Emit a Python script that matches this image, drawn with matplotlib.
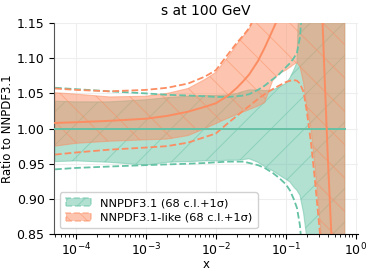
import matplotlib
matplotlib.use("Agg")
import matplotlib.pyplot as plt
from matplotlib.patches import Patch

# datos (cociente respecto a NNPDF3.1)
x = [5e-5, 1e-4, 3e-4, 1e-3, 2e-3, 4e-3, 7e-3, 1e-2, 0.015, 0.02,
     0.025, 0.03, 0.04, 0.05, 0.065, 0.08, 0.1, 0.115, 0.13, 0.145,
     0.16, 0.18, 0.2, 0.23, 0.26, 0.29, 0.32, 0.36, 0.4, 0.5, 0.7]

# NNPDF3.1
g_central = [1.0] * len(x)
g_up68 = [1.039, 1.038, 1.038, 1.041, 1.044, 1.046, 1.047, 1.047, 1.048, 1.050,
          1.053, 1.055, 1.055, 1.054, 1.055, 1.059, 1.064, 1.072, 1.083, 1.094,
          1.25, 1.6, 2.0, 2.0, 2.0, 2.0, 2.0, 2.0, 2.0, 2.0, 2.0]
g_lo68 = [0.953, 0.954, 0.952, 0.948, 0.952, 0.953, 0.954, 0.954, 0.955, 0.955,
          0.956, 0.957, 0.952, 0.946, 0.940, 0.934, 0.928, 0.924, 0.917, 0.912,
          0.905, 0.88, 0.845, 0.7, 0.4, 0.0, 0.0, 0.0, 0.0, 0.0, 0.0]
g_up1s = [1.058, 1.056, 1.053, 1.050, 1.048, 1.047, 1.046, 1.045, 1.045, 1.046,
          1.047, 1.049, 1.055, 1.061, 1.070, 1.077, 1.087, 1.093, 1.100, 1.108,
          1.13, 1.2, 1.4, 2.0, 2.0, 2.0, 2.0, 2.0, 2.0, 2.0, 2.0]
g_lo1s = [0.942, 0.944, 0.946, 0.948, 0.949, 0.950, 0.951, 0.952, 0.953, 0.953,
          0.953, 0.951, 0.948, 0.944, 0.937, 0.930, 0.921, 0.912, 0.900, 0.887,
          0.862, 0.80, 0.7, 0.4, 0.0, 0.0, 0.0, 0.0, 0.0, 0.0, 0.0]

# NNPDF3.1-like
o_central = [1.008, 1.009, 1.011, 1.014, 1.018, 1.024, 1.031, 1.036, 1.047, 1.058,
             1.068, 1.077, 1.096, 1.115, 1.140, 1.16, 1.19, 1.22, 1.26, 1.3,
             1.35, 1.45, 1.6, 1.9, 2.4, 3.0, 1.21, 1.075, 0.96, 0.75, 0.45]
o_up68 = [1.051, 1.049, 1.045, 1.046, 1.050, 1.057, 1.070, 1.080, 1.102, 1.120,
          1.132, 1.142, 1.165, 1.2, 1.3, 1.4, 1.5, 1.6, 1.7, 1.8,
          2.0, 2.0, 2.0, 2.0, 2.0, 2.0, 2.0, 2.0, 2.0, 2.0, 2.0]
o_lo68 = [0.975, 0.979, 0.982, 0.984, 0.985, 0.990, 1.000, 1.007, 1.015, 1.020,
          1.024, 1.027, 1.032, 1.037, 1.068, 1.078, 1.083, 1.087, 1.091, 1.094,
          1.088, 1.065, 1.03, 1.0, 0.95, 0.9, 0.85, 0.78, 0.7, 0.5, 0.2]
o_up1s = [1.057, 1.055, 1.053, 1.055, 1.058, 1.064, 1.074, 1.083, 1.106, 1.122,
          1.133, 1.143, 1.17, 1.21, 1.3, 1.4, 1.5, 1.6, 1.7, 1.8,
          2.0, 2.0, 2.0, 2.0, 2.0, 2.0, 2.0, 2.0, 2.0, 2.0, 2.0]
o_lo1s = [0.963, 0.966, 0.970, 0.973, 0.975, 0.980, 0.988, 0.993, 1.008, 1.018,
          1.026, 1.032, 1.042, 1.049, 1.056, 1.061, 1.066, 1.068, 1.069, 1.068,
          1.064, 1.052, 1.025, 0.98, 0.93, 0.88, 0.835, 0.78, 0.7, 0.5, 0.2]

labels = ["NNPDF3.1 (68 c.l.+1σ)", "NNPDF3.1-like (68 c.l.+1σ)"]
green = "#66c2a5"
orange = "#fc8d62"

plt.rcParams["hatch.linewidth"] = 0.7

fig, ax = plt.subplots(figsize=(3.74, 2.75), dpi=100)
fig.subplots_adjust(left=0.145, right=0.957, top=0.916, bottom=0.149)

series = [
    (g_central, g_up68, g_lo68, g_up1s, g_lo1s, green, "//"),
    (o_central, o_up68, o_lo68, o_up1s, o_lo1s, orange, "\\\\"),
]
handles = []
for cen, up, lo, up1, lo1, c, h in series:
    ax.fill_between(x, lo, up, color=c, alpha=0.5, hatch=h[0], linewidth=0.8, zorder=1)
    ax.plot(x, cen, color=c, lw=1.4, zorder=3)
    ax.plot(x, up1, color=c, lw=1.3, ls="--", zorder=2)
    ax.plot(x, lo1, color=c, lw=1.3, ls="--", zorder=2)
    handles.append(Patch(facecolor=c, edgecolor=c, alpha=0.5, hatch=h, linestyle="--", linewidth=1.2))

ax.set_xscale("log")
ax.set_xlim(4.86e-5, 1.08)
ax.set_ylim(0.85, 1.15)
ax.set_yticks([0.85, 0.90, 0.95, 1.00, 1.05, 1.10, 1.15])
ax.grid(True, color="#eeeeee", lw=0.8, zorder=0)
ax.set_axisbelow(True)
for s in ["top", "right"]:
    ax.spines[s].set_visible(False)
ax.spines["left"].set_color("#555555")
ax.tick_params(labelsize=9)
ax.tick_params(axis="x", pad=2)

ax.set_title("s at 100 GeV", fontsize=10)
ax.set_xlabel("x", fontsize=8.5, labelpad=0)
ax.set_ylabel("Ratio to NNPDF3.1", fontsize=8.5, labelpad=2)

ax.legend(handles, labels, loc="lower left", fontsize=8.2, framealpha=0.9,
          handlelength=2.2, borderpad=0.5, labelspacing=0.4)

plt.savefig("out.png", dpi=100)
